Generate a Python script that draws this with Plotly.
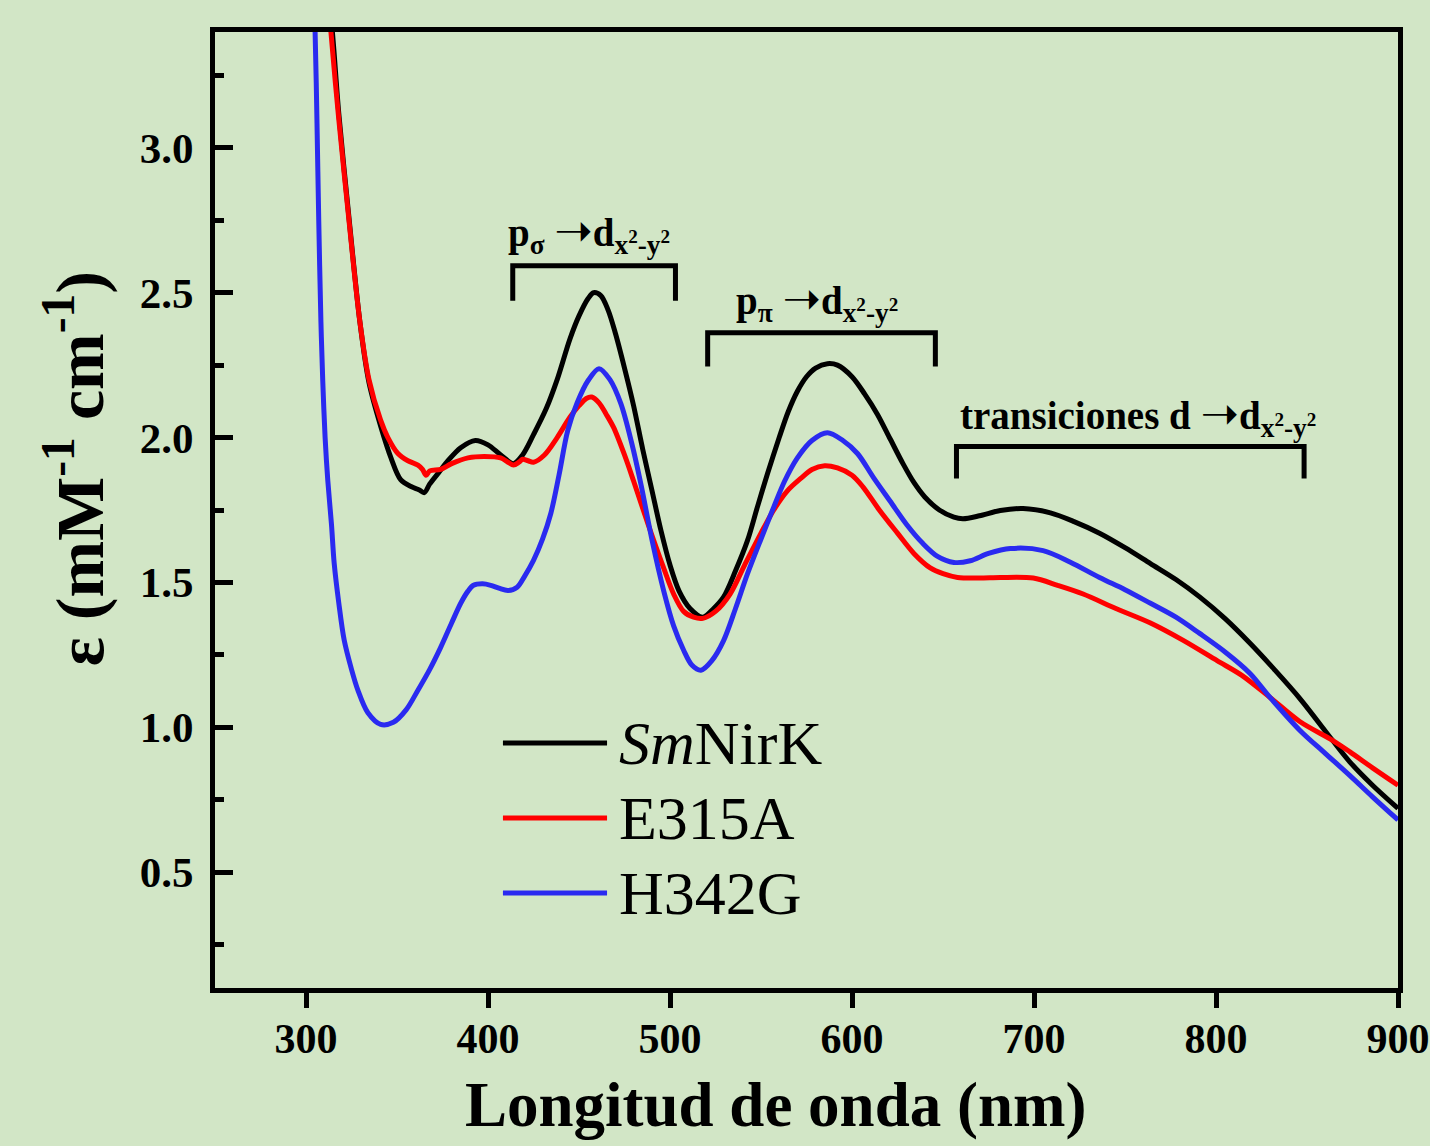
import plotly.graph_objects as go

# ---------------- data ----------------
series_names = ["<i>Sm</i>NirK", "E315A", "H342G"]
series_colors = ["#000000", "#ff0000", "#2a2af0"]

wl_smnirk = [312, 314.5, 318, 323.6, 329.6, 334.6, 341, 346.7, 352, 358, 362, 365, 368, 373, 378, 385,
             393, 400, 407, 414, 419, 425, 432, 438, 445, 450, 455, 458, 462, 466, 470, 475, 480, 485,
             490, 495, 500, 505, 511, 518, 524, 529.5, 536, 542.6, 548, 553.6, 560, 565, 570, 575, 580,
             586.5, 592, 600, 607, 614, 621, 628, 634, 640, 648, 656, 661, 670, 681.5, 694, 709, 722, 736,
             750, 764, 778, 791, 805, 818.7, 832, 846, 864, 873.6, 886, 900]
eps_smnirk = [3.55, 3.40, 3.12, 2.76, 2.40, 2.19, 2.04, 1.93, 1.855, 1.83, 1.82, 1.81, 1.84, 1.88, 1.92, 1.965,
              1.99, 1.975, 1.94, 1.91, 1.94, 2.01, 2.10, 2.20, 2.34, 2.42, 2.48, 2.50, 2.49, 2.44, 2.36, 2.24, 2.11, 1.96,
              1.82, 1.68, 1.56, 1.47, 1.41, 1.38, 1.41, 1.45, 1.54, 1.645, 1.76, 1.876, 2.00, 2.09, 2.16, 2.21, 2.24,
              2.255, 2.25, 2.21, 2.15, 2.08, 1.995, 1.91, 1.845, 1.795, 1.75, 1.725, 1.72, 1.73, 1.748, 1.755, 1.74,
              1.71, 1.67, 1.62, 1.565, 1.51, 1.45, 1.375, 1.29, 1.20, 1.10, 0.955, 0.88, 0.80, 0.72]

wl_e315a = [312, 313.7, 318, 323.6, 329.6, 334.6, 341, 345, 350.5, 356, 361.5, 364, 366, 368, 374, 380, 389,
            398, 407, 411, 414, 417, 419, 422, 425, 431, 438, 445, 450, 454, 457, 461, 465, 469, 475, 480, 488,
            496.5, 502, 507.5, 513, 518, 525, 533, 541, 550, 557, 564.6, 572, 578, 585, 592, 600, 606, 615, 625,
            634, 643, 650, 658, 670, 681.5, 699.6, 713, 727, 745, 764, 782, 800.6, 814, 829.7, 846, 864,
            873.6, 886, 900]
eps_e315a = [3.55, 3.40, 3.10, 2.75, 2.40, 2.20, 2.06, 2.00, 1.945, 1.92, 1.905, 1.89, 1.87, 1.885, 1.89, 1.91, 1.93,
             1.935, 1.93, 1.915, 1.905, 1.915, 1.925, 1.92, 1.915, 1.94, 2.00, 2.07, 2.11, 2.135, 2.14, 2.12, 2.08, 2.035, 1.94,
             1.85, 1.70, 1.55, 1.46, 1.40, 1.38, 1.376, 1.40, 1.46, 1.56, 1.67, 1.75, 1.817, 1.86, 1.89, 1.903, 1.895, 1.87,
             1.83, 1.75, 1.67, 1.60, 1.55, 1.53, 1.517, 1.515, 1.517, 1.515, 1.49, 1.46, 1.41, 1.36, 1.30, 1.23, 1.18,
             1.103, 1.02, 0.955, 0.915, 0.86, 0.80]

wl_h342g = [304, 305, 306, 307, 308.2, 309.2, 310.5, 312, 314, 315.5, 318, 321, 325, 328.5, 334, 341, 348, 355,
            361.5, 368, 374, 380, 385, 389, 392, 397, 401.5, 406, 411, 416, 420, 425, 430, 434.5, 439, 443.8,
            449, 455, 461, 467, 473, 479, 484, 490, 496.5, 502, 507.5, 512, 517, 523, 529.5, 536, 542.6, 550,
            557, 563, 570, 578, 586.5, 595, 603, 612, 621, 630, 639, 647, 656, 665, 675, 687, 705, 720, 736,
            750, 764, 778, 791, 805, 818.7, 829.7, 846, 860, 873.6, 886, 900]
eps_h342g = [3.55, 3.40, 3.10, 2.75, 2.40, 2.197, 2.00, 1.85, 1.70, 1.565, 1.43, 1.30, 1.20, 1.128, 1.05, 1.01, 1.017, 1.06,
             1.128, 1.20, 1.276, 1.36, 1.428, 1.47, 1.49, 1.495, 1.49, 1.48, 1.472, 1.483, 1.52, 1.576, 1.65, 1.738, 1.87, 2.024,
             2.12, 2.197, 2.238, 2.20, 2.117, 1.98, 1.84, 1.65, 1.472, 1.35, 1.266, 1.215, 1.197, 1.23, 1.30, 1.41, 1.53, 1.65,
             1.76, 1.85, 1.93, 1.99, 2.017, 1.99, 1.945, 1.86, 1.78, 1.70, 1.634, 1.59, 1.569, 1.575, 1.60, 1.617, 1.61, 1.57, 1.517,
             1.475, 1.428, 1.38, 1.324, 1.26, 1.186, 1.103, 0.99, 0.91, 0.833, 0.76, 0.68]

x_tick_values = [300, 400, 500, 600, 700, 800, 900]
y_tick_values = [0.5, 1.0, 1.5, 2.0, 2.5, 3.0]
y_minor_values = [0.25, 0.75, 1.25, 1.75, 2.25, 2.75, 3.25]

ARROW = "<span style='font-family:DejaVu Sans;font-size:46px'>➝</span>"
DX2Y2 = "d<sub>x<sup>2</sup>-y<sup>2</sup></sub>"
# transition brackets: (x_left, x_right, y_top, y_bottom, label, label_x, label_y)
brackets = [
    (413.6, 503.0, 2.593, 2.472, f"p<sub>σ</sub> {ARROW}{DX2Y2}", 455.5, 2.71),
    (520.7, 645.8, 2.362, 2.245, f"p<sub>π</sub> {ARROW}{DX2Y2}", 580.5, 2.475),
    (657.4, 848.4, 1.969, 1.859, f"transiciones d {ARROW}{DX2Y2}", 757.0, 2.08),
]

# ---------------- figure ----------------
SERIF = "Liberation Serif, Times New Roman, serif"
BG = "#d2e6c6"

fig = go.Figure()
all_x = [wl_smnirk, wl_e315a, wl_h342g]
all_y = [eps_smnirk, eps_e315a, eps_h342g]
for name, color, xs, ys in zip(series_names, series_colors, all_x, all_y):
    fig.add_trace(go.Scatter(x=xs, y=ys, mode="lines", name=name,
                             line=dict(color=color, width=5, shape="spline", smoothing=0.9),
                             showlegend=False, cliponaxis=True))

shapes = []
annotations = []
for (xl, xr, yt, yb, label, lx, ly) in brackets:
    shapes.append(dict(type="path", xref="x", yref="y",
                       path=f"M {xl},{yb} L {xl},{yt} L {xr},{yt} L {xr},{yb}",
                       line=dict(color="black", width=5)))
    annotations.append(dict(x=lx, y=ly, xref="x", yref="y", text=f"<b>{label}</b>", showarrow=False,
                            xanchor="center", yanchor="middle",
                            font=dict(family=SERIF, size=39, color="black")))

# manual legend (long line keys as in the reference)
legend_y = [0.2563, 0.1778, 0.0994]
for name, color, ly in zip(series_names, series_colors, legend_y):
    shapes.append(dict(type="line", xref="paper", yref="paper", x0=0.2434, x1=0.3314, y0=ly, y1=ly,
                       line=dict(color=color, width=5)))
    annotations.append(dict(x=0.3398, y=ly, xref="paper", yref="paper", text=name, showarrow=False,
                            xanchor="left", yanchor="middle",
                            font=dict(family=SERIF, size=62, color="black")))

# axis titles
annotations.append(dict(x=0.474, y=-0.1224, xref="paper", yref="paper",
                        text="<b>Longitud de onda (nm)</b>", showarrow=False,
                        xanchor="center", yanchor="middle",
                        font=dict(family=SERIF, size=63, color="black")))
annotations.append(dict(x=-0.118, y=0.543, xref="paper", yref="paper",
                        text="<b>ε (mM<sup>-1</sup> cm<sup>-1</sup>)</b>", showarrow=False, textangle=-90,
                        xanchor="center", yanchor="middle",
                        font=dict(family=SERIF, size=68, color="black")))

fig.update_layout(
    width=1430, height=1146,
    margin=dict(l=215, r=32, t=32, b=158, autoexpand=False),
    paper_bgcolor=BG, plot_bgcolor=BG,
    shapes=shapes, annotations=annotations,
    font=dict(family=SERIF, color="black"),
)
fig.update_xaxes(range=[250, 900], tickvals=x_tick_values, ticktext=[f"<b>{v}</b>" for v in x_tick_values],
                 ticks="outside", ticklen=15, tickwidth=5, tickcolor="black",
                 showline=True, linewidth=5, linecolor="black", mirror=True, automargin=False,
                 showgrid=False, zeroline=False, ticklabeloverflow="allow", ticklabelstandoff=-5,
                 tickfont=dict(family=SERIF, size=42, color="black"))
fig.update_yaxes(range=[0.1, 3.4], tickvals=y_tick_values, ticktext=[f"<b>{v:.1f}</b>" for v in y_tick_values],
                 ticks="inside", ticklen=18, tickwidth=5, tickcolor="black",
                 minor=dict(tickvals=y_minor_values, ticks="inside",
                            ticklen=9, tickwidth=5, tickcolor="black"),
                 showline=True, linewidth=5, linecolor="black", mirror=True, automargin=False,
                 showgrid=False, zeroline=False, ticklabelstandoff=8,
                 tickfont=dict(family=SERIF, size=43, color="black"))

page_js = ("document.documentElement.style.overflow='hidden';"
           "document.body.style.overflow='hidden';"
           "document.body.style.margin='0px';"
           "document.body.style.background='" + BG + "';")
fig.write_html("out.html", config={"displayModeBar": False}, post_script=page_js)
